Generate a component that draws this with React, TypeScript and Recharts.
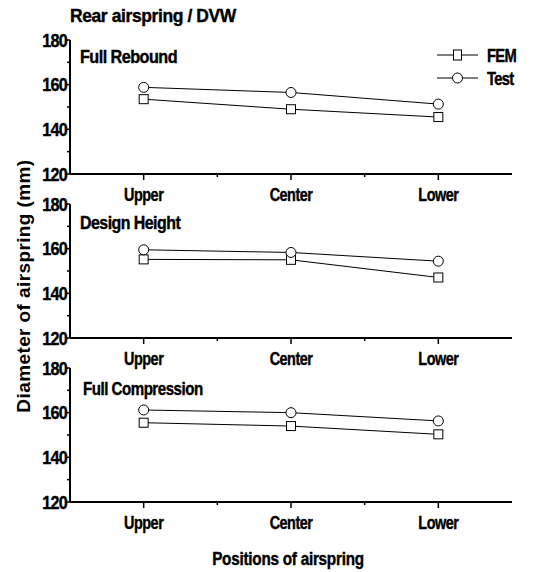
import { LineChart, Line, XAxis, YAxis, Legend } from 'recharts'

const positions = ['Upper', 'Center', 'Lower']
const panelTitles = ['Full Rebound', 'Design Height', 'Full Compression']
const femRebound = [153.5, 149, 145.5]
const testRebound = [158.8, 156.5, 151.3]
const femDesign = [155.2, 155, 147.1]
const testDesign = [159.5, 158.3, 154.4]
const femCompression = [155.5, 154, 150.3]
const testCompression = [161.2, 160, 156.3]
const yTicks = [120, 130, 140, 150, 160, 170, 180]
const xTicks = [1, 1.5, 2, 2.5, 3]

const FONT = '"Liberation Sans", Arial, sans-serif'

const build = (fem: number[], test: number[]) =>
  positions.map((p, i) => ({ pos: i + 1, name: p, FEM: fem[i], Test: test[i] }))

const panels = [
  { title: panelTitles[0], data: build(femRebound, testRebound), top: 40, titleX: 80, titleY: 58, sx: 0.9 },
  { title: panelTitles[1], data: build(femDesign, testDesign), top: 204, titleX: 80, titleY: 224, sx: 0.885 },
  { title: panelTitles[2], data: build(femCompression, testCompression), top: 368, titleX: 83, titleY: 390, sx: 0.84 },
]

const YTick = (props: any) => {
  const { x, y, payload } = props
  const major = payload.value % 20 === 0
  return (
    <g>
      <line x1={x - (major ? 5 : 3)} x2={x} y1={y} y2={y} stroke="#000" strokeWidth={1.5} />
      {major && (
        <text transform={`translate(${x - 3}, ${y + 6.5}) scale(0.9, 1)`} textAnchor="end"
          fontFamily={FONT} fontWeight="bold" fontSize={18} letterSpacing={-0.8}
          fill="#000" stroke="#000" strokeWidth={0.4}>
          {payload.value}
        </text>
      )}
    </g>
  )
}

const XTick = (props: any) => {
  const { x, y, payload } = props
  const major = Number.isInteger(payload.value)
  return (
    <g>
      <line x1={x} x2={x} y1={y} y2={y + (major ? 6 : 3)} stroke="#000" strokeWidth={1.5} />
      {major && (
        <text transform={`translate(${x}, ${y + 27}) scale(0.8, 1)`} textAnchor="middle"
          fontFamily={FONT} fontWeight="bold" fontSize={18} letterSpacing={-0.6}
          fill="#000" stroke="#000" strokeWidth={0.4}>
          {positions[payload.value - 1]}
        </text>
      )}
    </g>
  )
}

const squareDot = (p: any) => (
  <rect key={`s${p.index}`} x={p.cx - 4.5} y={p.cy - 4.5} width={9} height={9}
    fill="#fff" stroke="#000" strokeWidth={1} />
)
const circleDot = (p: any) => (
  <circle key={`c${p.index}`} cx={p.cx} cy={p.cy} r={5} fill="#fff" stroke="#000" strokeWidth={1} />
)

const renderLegend = () => (
  <svg width={90} height={46}>
    {['FEM', 'Test'].map((name, i) => (
      <g key={name} transform={`translate(0, ${11 + i * 23})`}>
        <line x1={2} x2={43} y1={0} y2={0} stroke="#000" strokeWidth={1} />
        {i === 0 ? (
          <rect x={18.5} y={-5} width={8} height={10} fill="#fff" stroke="#000" />
        ) : (
          <circle cx={22.5} cy={0} r={5} fill="#fff" stroke="#000" />
        )}
        <text transform="translate(52, 6.5) scale(0.82, 1)" fontFamily={FONT} fontWeight="bold"
          fontSize={18} letterSpacing={-0.8} fill="#000" stroke="#000" strokeWidth={0.4}>
          {name}
        </text>
      </g>
    ))}
  </svg>
)

const Txt = ({ x, y, size, sx, center, spacing = 0, children }: any) => (
  <div style={{
    position: 'absolute',
    left: center ? x - 300 : x,
    width: center ? 600 : undefined,
    textAlign: center ? 'center' : 'left',
    top: y - size * 0.6,
    height: size * 1.2,
    lineHeight: `${size * 1.2}px`,
    fontFamily: FONT,
    fontWeight: 'bold',
    fontSize: size,
    letterSpacing: spacing,
    color: '#000',
    WebkitTextStroke: '0.4px #000',
    whiteSpace: 'nowrap',
    transform: `scaleX(${sx})`,
    transformOrigin: center ? 'center center' : 'left center',
  }}>
    {children}
  </div>
)

export default function App() {
  return (
    <div style={{ position: 'absolute', left: 0, top: 0, width: 535, height: 572, background: '#fff' }}>
      {panels.map((panel, i) => (
        <div key={panel.title} style={{ position: 'absolute', left: 0, top: panel.top - 10 }}>
          <LineChart width={535} height={180} data={panel.data}
            margin={{ top: 10, right: 23, bottom: 0, left: 30 }}>
            <XAxis dataKey="pos" type="number" domain={[0.5, 3.5]} ticks={xTicks} height={36}
              axisLine={{ stroke: '#000', strokeWidth: 2 }} tickLine={false} tickSize={0} tickMargin={0}
              tick={<XTick />} interval={0} />
            <YAxis type="number" domain={[120, 180]} ticks={yTicks} width={40}
              axisLine={{ stroke: '#000', strokeWidth: 2 }} tickLine={false} tickSize={0} tickMargin={0}
              tick={<YTick />} interval={0} />
            <Line dataKey="FEM" stroke="#000" strokeWidth={1} dot={squareDot} isAnimationActive={false} />
            <Line dataKey="Test" stroke="#000" strokeWidth={1} dot={circleDot} isAnimationActive={false} />
            {i === 0 && (
              <Legend layout="vertical" align="center" verticalAlign="middle" content={renderLegend}
                wrapperStyle={{ position: 'absolute', left: 435, top: 14, width: 90 }} />
            )}
          </LineChart>
        </div>
      ))}
      {panels.map((panel) => (
        <Txt key={`t-${panel.title}`} x={panel.titleX} y={panel.titleY} size={18} sx={panel.sx} spacing={-0.6}>
          {panel.title}
        </Txt>
      ))}
      <Txt x={70} y={17} size={18} sx={0.97} spacing={-0.4}>Rear airspring / DVW</Txt>
      <Txt x={288} y={560} size={18} sx={0.85} spacing={-0.3} center>Positions of airspring</Txt>
      <div style={{
        position: 'absolute', left: 24 - 150, top: 286 - 11, width: 300, height: 22, lineHeight: '22px',
        textAlign: 'center', fontFamily: FONT, fontWeight: 'bold', fontSize: 19, letterSpacing: 0.4,
        color: '#000', whiteSpace: 'nowrap', transform: 'rotate(-90deg)',
      }}>
        Diameter of airspring (mm)
      </div>
    </div>
  )
}
